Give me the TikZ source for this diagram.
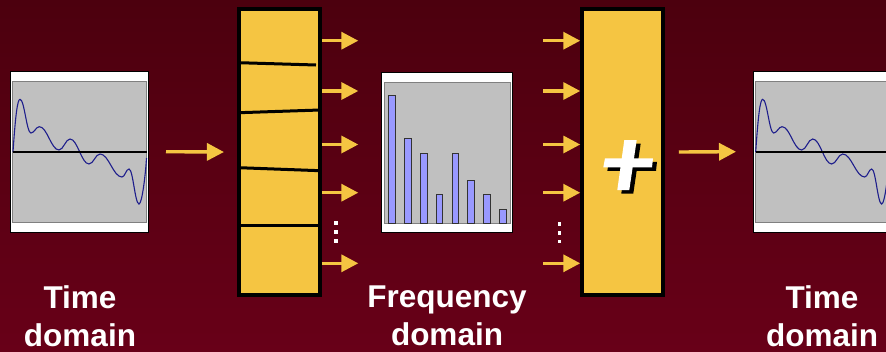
\documentclass[tikz,border=0pt]{standalone}
\usepackage{fontspec}
\setmainfont{Liberation Sans}
\usetikzlibrary{arrows.meta}

\definecolor{bgtop}{RGB}{76,0,14}
\definecolor{bgbot}{RGB}{104,0,24}
\definecolor{gold}{RGB}{245,197,66}
\definecolor{plotgray}{RGB}{192,192,192}
\definecolor{plotedge}{RGB}{128,128,128}
\definecolor{wave}{RGB}{30,30,140}
\definecolor{barblue}{RGB}{153,153,255}

\tikzset{
  panel/.style={draw=black, line width=1.2pt, fill=white, inner sep=0pt},
  block/.style={draw=black, line width=3.5pt, fill=gold, inner sep=0pt,
                minimum width=81pt, minimum height=286pt},
  flow/.style={draw=gold, line width=3.4pt, -{Triangle[length=17pt,width=17pt]}},
  plotarea/.style={fill=plotgray, draw=plotedge, line width=0.8pt},
  axisline/.style={draw=black, line width=2.6pt},
  waveline/.style={draw=wave, line width=1.1pt},
  bar/.style={fill=barblue, draw=black!80, line width=0.8pt},
  divider/.style={draw=black, line width=3pt},
  dot/.style={fill=white},
  caption/.style={text=white, font=\fontsize{31.5}{38}\selectfont\bfseries,
                  align=center, anchor=north, inner sep=0pt},
}

% gray plot area with the rippled waveform and its zero line
\newcommand\drawwave[1]{%
  \begin{scope}[xshift=#1]
    \draw[plotarea] (12.7,81) rectangle (146.7,222);
    \draw[waveline] (13,152)
      .. controls (15.5,115) and (17.5,99.3) .. (20,99.3)
      .. controls (24.4,99.3) and (26.6,133) .. (31,133)
      .. controls (34.3,133) and (36,126.7) .. (39.3,126.7)
      .. controls (47.2,126.7) and (51.1,150) .. (59,150)
      .. controls (63.4,150) and (65.6,139) .. (70,139)
      .. controls (77.6,139) and (81.4,164) .. (89,164)
      .. controls (93.4,164) and (95.6,154) .. (100,154)
      .. controls (108.8,154) and (113.2,177) .. (122,177)
      .. controls (124.8,177) and (126.2,169) .. (129,169)
      .. controls (133,169) and (135,204) .. (139,204)
      .. controls (142,204) and (145.5,175) .. (146.5,158);
    \draw[axisline] (13,152) -- (147,152);
  \end{scope}}

\begin{document}
\begin{tikzpicture}[x=1pt, y=-1pt]
  \useasboundingbox (0,0) rectangle (886,351);
  \clip (0,0) rectangle (886,351);
  \shade[top color=bgtop, bottom color=bgbot] (0,0) rectangle (886,351);

  % time-domain input
  \node[panel, minimum width=138.1pt, minimum height=160.8pt] (tin) at (79.65,151.7) {};
  \drawwave{0}

  % filter bank
  \node[block] (bank) at (279.5,152) {};
  \draw[divider] (239,62.7) -- (316,65);
  \draw[divider] (239,112.7) -- (320,110);
  \draw[divider] (239,167.7) -- (320,170.7);
  \draw[divider] (239,225) -- (320,225);

  % frequency-domain spectrum
  \node[panel, minimum width=131.4pt, minimum height=160.4pt] (freq) at (447,152.5) {};
  \draw[plotarea] (384,82) rectangle (510.7,223.3);
  \foreach \i/\t in {0/95.7,1/138,2/153.3,3/194.3,4/153.3,5/180.7,6/194.3,7/209.3}
    \draw[bar] ({388.7+15.8*\i},\t) rectangle ({395.4+15.8*\i},223.3);

  % summing block with a shadowed italic plus
  \node[block] (adder) at (622.5,152) {};
  \fill[black] (609,161.8) -- (657,161.8) -- (656,170.8) -- (607.3,170.8) -- cycle;
  \fill[black] (628.3,143.5) -- (640.7,143.5) -- (633.3,193.5) -- (621.3,193.5) -- cycle;
  \fill[white] (605,158.3) -- (653,158.3) -- (652,167.3) -- (603.3,167.3) -- cycle;
  \fill[white] (624.3,140) -- (636.7,140) -- (629.3,190) -- (617.3,190) -- cycle;

  % time-domain output
  \node[panel, minimum width=138.1pt, minimum height=160.8pt] (tout) at (822.35,151.7) {};
  \drawwave{742.7}

  % connectors
  \draw[flow] ([xshift=16.7pt]tin.east) -- ([xshift=-13.3pt]bank.west);
  \draw[flow] ([xshift=14pt]adder.east) -- ([xshift=-16.7pt]tout.west);

  \foreach \n/\y in {1/40.7,2/91,3/144.5,4/192.7,5/263.3}{
    \coordinate (b\n) at (358.3,\y);
    \coordinate (a\n) at (543.3,\y);
    \draw[flow] (bank.east |- b\n) -- (b\n);
    \draw[flow] (a\n) -- (adder.west |- a\n);
  }

  % ellipsis dots
  \foreach \y in {222.7,231.7,240.7}
    \fill[dot] (334.2,\y-1.8) rectangle (337.8,\y+1.8);
  \foreach \y in {224,232.7,241.3}
    \fill[dot] (557.5,\y-1.8) rectangle (561.1,\y+1.8);

  % captions
  \node[caption] (lblin) at (80,285.5) {Time\\domain};
  \node[caption] (lblfreq) at (447,285.5) {Frequency\\domain};
  \node[caption] (lblout) at (822,285.5) {Time\\domain};
\end{tikzpicture}
\end{document}
